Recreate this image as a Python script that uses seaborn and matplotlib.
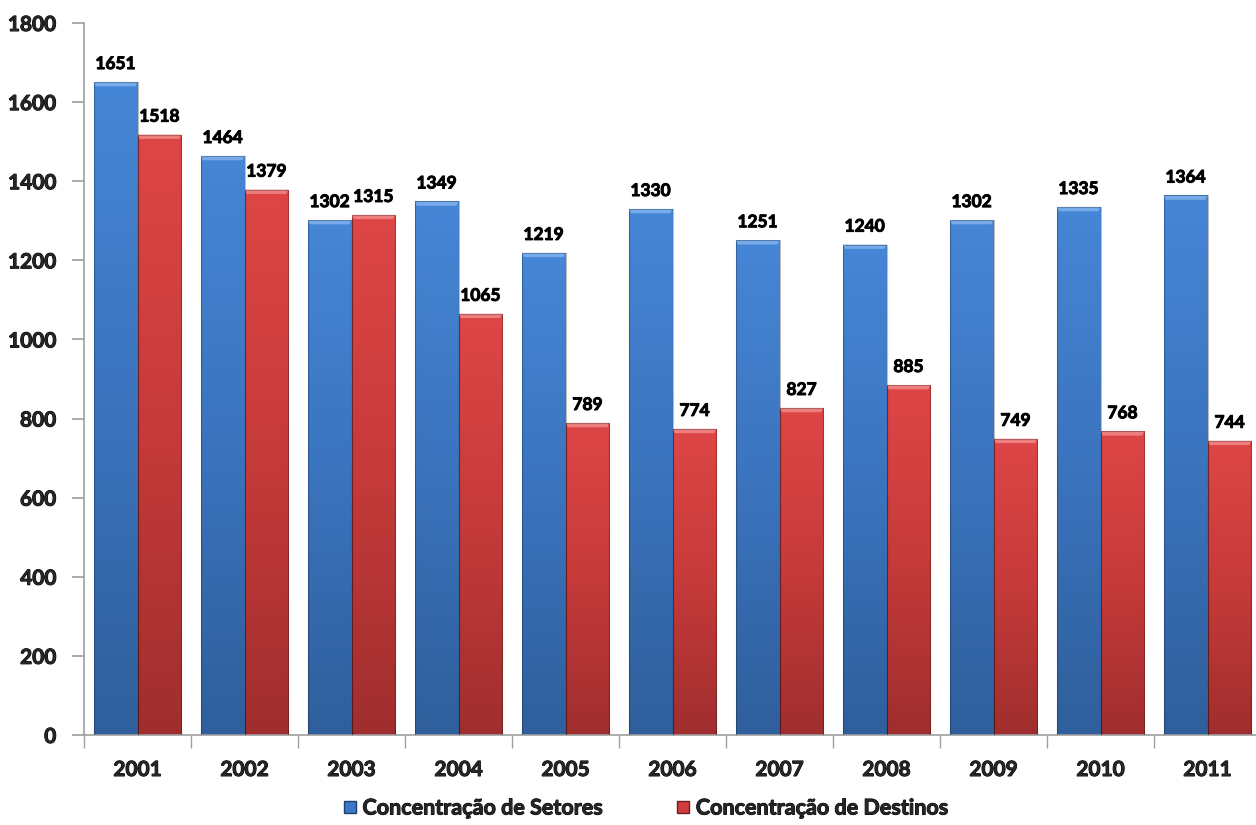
import numpy as np
import pandas as pd
import matplotlib
matplotlib.use("Agg")
import matplotlib.pyplot as plt
import matplotlib.patheffects as pe
import seaborn as sns
from matplotlib.colors import LinearSegmentedColormap
from matplotlib.patches import Rectangle, Polygon
from matplotlib.lines import Line2D

years = ["2001", "2002", "2003", "2004", "2005", "2006", "2007", "2008", "2009", "2010", "2011"]
setores = [1651, 1464, 1302, 1349, 1219, 1330, 1251, 1240, 1302, 1335, 1364]
destinos = [1518, 1379, 1315, 1065, 789, 774, 827, 885, 749, 768, 744]
series = ["Concentração de Setores", "Concentração de Destinos"]
yticks = [0, 200, 400, 600, 800, 1000, 1200, 1400, 1600, 1800]

df = pd.DataFrame({
    "Ano": years * 2,
    "Valor": setores + destinos,
    "Serie": [series[0]] * len(years) + [series[1]] * len(years),
})

sns.set_theme(style="white")
plt.rcParams["font.family"] = ["Lato", "DejaVu Sans"]
plt.rcParams["font.weight"] = "bold"

heavy = [pe.withStroke(linewidth=0.7, foreground="black")]

fig = plt.figure(figsize=(12.56, 8.25), dpi=100)
ax = fig.add_axes([84 / 1256, 90 / 825, 1177 / 1256, 712 / 825])

palette = {series[0]: "#3c78c8", series[1]: "#d23c3c"}
sns.barplot(data=df, x="Ano", y="Valor", hue="Serie", palette=palette,
            width=0.82, ax=ax, legend=False, saturation=1, linewidth=0)

grads = {
    series[0]: LinearSegmentedColormap.from_list("b", ["#2f5f9c", "#3b73bd", "#4686d6"]),
    series[1]: LinearSegmentedColormap.from_list("r", ["#a02e2e", "#c63a3a", "#de4646"]),
}
tops = {series[0]: "#80b2ee", series[1]: "#f28a8a"}
grad = np.linspace(0, 1, 256).reshape(-1, 1)

for container, name in zip(ax.containers, series):
    for bar in container:
        x0, y0 = bar.get_x(), bar.get_y()
        w, h = bar.get_width(), bar.get_height()
        bar.set_facecolor("none")
        bar.set_edgecolor("none")
        im = ax.imshow(grad, extent=[x0, x0 + w, y0, y0 + h], origin="lower",
                       cmap=grads[name], aspect="auto", zorder=2)
        clip = Rectangle((x0, y0), w, h, transform=ax.transData)
        im.set_clip_path(clip)
        bev = 0.05 * w
        ax.add_patch(Polygon([(x0, y0 + h), (x0 + w, y0 + h), (x0 + w - bev, y0 + h - 11),
                              (x0 + bev, y0 + h - 11)], closed=True,
                             facecolor=tops[name], edgecolor="none", alpha=0.85, zorder=3))
        ax.add_patch(Rectangle((x0, y0), w, h, facecolor="none",
                               edgecolor=(0, 0, 0, 0.25), linewidth=0.8, zorder=4))
        ax.text(x0 + w / 2, y0 + h + 25, f"{int(h)}", ha="center", va="bottom",
                fontsize=12.5, fontweight="bold", color="black", zorder=5,
                path_effects=heavy)

ax.set_xlim(-0.5, len(years) - 0.5)
ax.set_ylim(0, 1800)
ax.set_yticks(yticks)
ax.set_yticklabels([str(t) for t in yticks], fontsize=15, fontweight="bold")
ax.set_xticks(range(len(years)))
ax.set_xticklabels(years, fontsize=15, fontweight="bold")
for t in ax.get_xticklabels() + ax.get_yticklabels():
    t.set_path_effects(heavy)
ax.set_xlabel("")
ax.set_ylabel("")

for s in ["top", "right"]:
    ax.spines[s].set_visible(False)
for s in ["left", "bottom"]:
    ax.spines[s].set_color("#a0a0a0")
    ax.spines[s].set_linewidth(1.2)

ax.tick_params(axis="y", which="major", left=True, length=9, color="#a0a0a0", pad=11)
ax.tick_params(axis="x", which="major", bottom=False, pad=12)
ax.set_xticks(np.arange(-0.5, len(years), 1.0), minor=True)
ax.tick_params(axis="x", which="minor", bottom=True, length=9, color="#a0a0a0", direction="out")

handles = [Line2D([0], [0], marker="s", linestyle="none", markersize=8.5,
                  markerfacecolor=palette[s], markeredgecolor="#1f3f6f" if i == 0 else "#6f1f1f")
           for i, s in enumerate(series)]
leg = fig.legend(handles, series, loc="center", bbox_to_anchor=(645 / 1256, 17 / 825),
                 ncol=2, frameon=False, handlelength=0.7, handletextpad=0.25,
                 columnspacing=3.4, prop={"weight": "bold", "size": 15.5})
for t in leg.get_texts():
    t.set_path_effects(heavy)

fig.savefig("out.png", dpi=100)
